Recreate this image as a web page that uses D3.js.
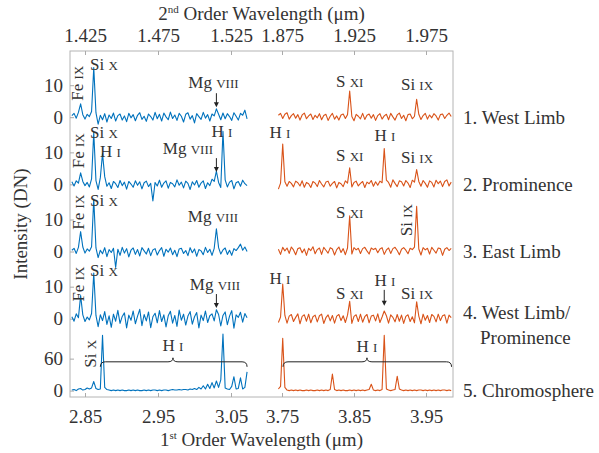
<!DOCTYPE html>
<html>
<head>
<meta charset="utf-8">
<script src="https://cdn.jsdelivr.net/npm/d3@7/dist/d3.min.js"></script>
<style>
  body { margin: 0; background: #fff; }
  svg text { font-family: "Liberation Serif", "Times New Roman", serif; fill: #333; }
  .tick line { stroke: #aaa; }
</style>
</head>
<body>
<div id="chart"></div>
<script>
// sampling grid of the spectra, 1st order wavelength (um)
const blueStart = 2.832, orangeStart = 3.745, gridStep = 0.003;

const panelNames = ['1. West Limb', '2. Prominence', '3. East Limb', '4. West Limb/', '5. Chromosphere'];
const panelYTicks = [[0, 10], [0, 10], [0, 10], [0, 10], [0, 60]];

const bottomTicksBlue = [2.85, 2.95, 3.05];
const bottomTicksOrange = [3.75, 3.85, 3.95];
const topTicksBlue = [1.425, 1.475, 1.525];
const topTicksOrange = [1.875, 1.925, 1.975];

// intensity (DN), blue = 2.83-3.07 um, orange = 3.74-3.99 um
const blueWest = [
  0.5, 1.2, -0.3, 1.5, 4.2, 0.8, -0.6, 0.9, 0.2, 1.8,
  15.5, 1.4, -2.2, 0.6, -0.8, 1.1, -1.5, 0.7, -0.4, 1.3,
  -1.2, 0.5, 1.0, -0.9, 0.4, -1.4, 1.2, -0.2, 0.8, -1.1,
  0.6, 1.4, -0.7, 0.3, -1.3, 1.0, 0.2, -0.9, 1.5, -0.5,
  0.9, -1.2, 1.3, 0.1, -0.8, 1.6, -0.4, 0.7, -1.0, 1.2,
  0.3, -1.5, 0.9, 1.4, -0.6, 0.5, -1.8, 1.1, 0.2, -0.7,
  1.5, -0.3, 0.8, -1.2, 1.0, 0.4, 2.6, 0.9, -0.8, 1.3,
  -0.5, 1.1, 0.2, -1.0, 1.4, 0.3, -0.9, 1.2, 0.6, 2.2, -0.5];
const blueProm = [
  0.8, -0.5, 1.1, 0.4, 3.6, 0.9, -0.4, 0.6, -0.8, 1.7,
  16.2, 1.2, -1.6, 2.1, 9.6, 2.4, -0.6, 0.5, -1.3, 0.9,
  0.2, -1.0, 1.2, -0.4, 0.7, -1.5, 0.9, 0.1, -0.9, 1.1,
  -0.3, 0.8, -1.4, 0.5, 1.0, -0.7, 0.3, -5.2, 0.6, -0.5,
  1.3, -0.9, 0.4, 1.1, -1.2, 0.6, 0.2, -0.8, 1.4, -0.3,
  0.7, -1.1, 1.0, 0.3, -1.6, 0.8, -0.2, 1.2, -0.9, 0.4,
  1.1, -1.3, 0.5, -0.4, 1.6, 0.9, 4.1, 0.6, -1.0, 16.6,
  1.4, -0.8, 0.7, 1.2, -1.4, 0.5, 0.9, -0.6, 1.3, 0.2, -0.4];
const blueEast = [
  0.4, 1.0, -0.6, 1.3, 6.2, 1.4, -0.5, 0.8, 0.1, 1.5,
  16.4, 1.1, -1.9, 0.4, -0.7, 1.2, -1.6, 0.6, -0.3, 1.0,
  -5.0, 0.7, -1.2, 1.3, -0.5, 0.9, -1.7, 0.4, 1.1, -0.9,
  0.6, -1.4, 1.2, 0.2, -0.8, 1.0, -1.3, 0.5, 0.9, -1.1,
  0.3, 1.2, -1.5, 0.7, -0.2, 1.1, -1.0, 0.4, -1.6, 0.8,
  1.0, -0.6, 0.3, -1.3, 1.2, -0.4, 0.8, -1.5, 0.6, 0.2,
  -1.0, 1.3, -0.3, 0.7, -1.2, 1.0, 7.1, 1.2, -0.8, 0.5,
  1.1, -0.9, 0.4, -1.2, 0.9, 0.3, 1.2, 2.3, 0.4, 1.4, 0.0];
const blueWestProm = [
  0.6, -0.8, 1.5, 0.3, 7.2, 1.2, -0.9, 0.5, -0.4, 1.6,
  14.3, 1.0, -2.5, 1.2, -0.6, 2.2, -1.8, 0.9, -2.7, 1.4,
  -0.8, 2.6, -1.5, 0.7, 1.8, -2.9, 1.1, -0.5, 2.4, -1.6,
  0.8, 2.9, -2.2, 1.3, -0.7, 2.1, -2.8, 0.6, 1.7, -1.3,
  2.5, -0.9, 1.2, -2.6, 0.9, 2.3, -1.4, 1.0, -2.4, 2.7,
  -0.5, 1.4, -2.0, 0.8, 2.2, -1.7, 0.6, 1.9, -2.9, 1.1,
  -0.6, 2.4, -1.2, 0.9, 1.5, -0.7, 2.8, 1.3, -2.3, 1.0,
  2.1, -1.9, 0.8, 2.5, -3.0, 1.2, 0.4, 2.0, -1.1, 1.6, 0.3];
const blueChromo = [
  1, 2, 0, 3, 4, 1, 2, 5, 3, 5,
  17, 4, 2, 3, 104, 6, 2, 1, 0, 1,
  0, 1, 0, 1, 0, 0, 1, 0, 1, 0,
  1, 0, 0, 1, 0, 1, 0, 1, 1, 0,
  1, 0, 1, 1, 0, 1, 2, 1, 1, 2,
  1, 2, 2, 1, 3, 2, 4, 2, 6, 3,
  9, 3, 12, 4, 15, 5, 18, 6, 20, 106,
  5, 3, 2, 8, 26, 3, 4, 24, 3, 6, 35];

const orangeWest = [
  0.6, 1.2, -0.4, 0.9, 1.4, -0.6, 0.5, 1.1, -0.3, 0.8,
  -0.9, 0.7, 1.3, -0.5, 0.4, 1.0, -0.7, 0.6, -0.2, 1.1,
  -0.8, 0.5, 0.9, -1.0, 0.3, 1.2, -0.6, 0.4, -0.9, 0.7,
  1.0, -0.4, 0.8, 8.2, 0.2, -1.1, 0.9, 0.3, -0.5, 1.2,
  -0.7, 0.6, 1.0, -0.3, 0.8, -1.0, 0.5, 1.1, -0.6, 0.4,
  0.9, -0.8, 1.2, 0.1, -0.9, 0.7, 1.3, -0.4, 0.6, -1.1,
  0.8, 1.0, -0.5, 0.3, 5.6, 0.9, -0.7, 0.5, 1.2, -0.6,
  0.7, -0.2, 1.1, 0.4, -0.9, 0.8, 1.0, -0.4, 0.6, 1.3, 0.2];
const orangeProm = [
  -1.5, 0.4, 12.6, 0.8, -0.6, 0.9, 0.3, -0.8, 1.0, 0.5,
  -0.5, 1.1, -0.9, 0.6, 0.2, -1.0, 0.9, 0.4, -0.7, 1.2,
  0.1, -0.8, 0.7, 1.0, -0.6, 0.3, 0.9, -1.1, 0.6, 0.2,
  -0.7, 1.1, 0.4, 5.2, -0.8, 0.6, 1.0, -0.5, 0.3, 0.9,
  -1.0, 0.7, 0.2, 1.2, -0.6, 0.8, -0.3, 1.0, 0.5, 11.2,
  1.3, 0.6, -0.9, 1.4, 0.3, -0.7, 1.1, 0.8, -0.5, 1.2,
  0.4, -1.0, 1.3, 0.7, 4.6, 0.9, -0.6, 1.2, 0.3, -0.9,
  1.1, 0.6, -0.8, 1.3, 0.2, 1.0, -0.7, 0.9, 1.4, -0.5, 0.7];
const orangeEast = [
  0.7, -0.9, 1.3, 0.2, 1.1, -0.6, 1.4, 0.5, -1.0, 0.9,
  1.2, -0.4, 0.8, -1.2, 1.0, 0.3, 1.5, -0.7, 0.6, 1.1,
  -0.9, 1.3, 0.4, -0.5, 1.2, 0.8, -1.1, 0.6, 1.4, -0.3,
  0.9, -1.0, 1.1, 11.2, -0.8, 1.2, 0.5, 1.0, -0.6, 0.9,
  1.3, 0.2, -0.8, 1.1, 0.6, 1.0, -0.4, 0.8, 1.2, -0.9,
  0.5, 1.1, -0.6, 0.9, 1.3, 0.3, -1.0, 0.7, 1.2, 0.4,
  -0.7, 1.0, 0.6, 1.4, 14.1, 0.8, -1.1, 1.2, 0.5, 1.0,
  -0.8, 1.3, 0.4, -0.5, 1.1, 0.9, -1.2, 0.7, 1.2, 0.3, 1.0];
const orangeWestProm = [
  -1.2, 0.5, 10.8, 1.0, -1.4, 0.8, 1.3, -0.9, 0.4, 1.5,
  -1.6, 0.7, 1.2, -0.8, 1.4, -1.3, 0.6, 1.1, -1.0, 0.9,
  1.4, -1.5, 0.3, 1.2, -0.7, 1.0, -1.4, 0.8, 1.3, -0.6,
  0.9, -1.2, 1.1, 5.4, -1.5, 0.7, 1.2, -0.9, 1.4, -1.1,
  0.6, 1.3, -1.3, 0.8, 1.1, -0.7, 1.5, -1.2, 0.5, 2.4,
  0.9, -1.4, 1.2, 0.4, -1.0, 1.3, -0.8, 1.1, -1.5, 0.7,
  1.2, -0.9, 0.6, -1.3, 5.3, 0.8, -1.6, 1.4, -0.5, 1.0,
  -1.2, 1.3, 0.7, -1.0, 1.4, -0.6, 0.9, 1.2, -1.4, 1.1, 0.3];
const orangeChromo = [
  3, 8, 98, 6, 1, 0, 1, 0, 1, 0,
  1, 0, 0, 1, 0, 1, 0, 0, 1, 0,
  1, 0, 1, 0, 2, 31, 2, 0, 1, 0,
  1, 0, 0, 1, 0, 1, 0, 1, 0, 1,
  0, 1, 2, 12, 1, 0, 1, 0, 2, 104,
  3, 1, 0, 1, 2, 27, 3, 1, 0, 1,
  0, 1, 0, 1, 0, 1, 1, 0, 1, 0,
  1, 0, 1, 0, 1, 0, 1, 1, 0, 1, 0];

const blueSpectra = [blueWest, blueProm, blueEast, blueWestProm, blueChromo];
const orangeSpectra = [orangeWest, orangeProm, orangeEast, orangeWestProm, orangeChromo];

// line identifications: panel, band, wavelength, intensity, element, ion
const lineLabels = [
  [0, 'b', 2.839, 10.6, 'Fe', 'IX', 'rot'],
  [0, 'b', 2.857, 14.7, 'Si', 'X', 'start'],
  [0, 'b', 3.026, 9.1, 'Mg', 'VIII', 'middle'],
  [1, 'b', 2.8404, 10.5, 'Fe', 'IX', 'rot'],
  [1, 'b', 2.857, 14.5, 'Si', 'X', 'start'],
  [1, 'b', 2.8705, 8.6, 'H', 'I', 'start'],
  [1, 'b', 2.991, 9.5, 'Mg', 'VIII', 'middle'],
  [1, 'b', 3.0377, 14.8, 'H', 'I', 'middle'],
  [2, 'b', 2.8404, 12.3, 'Fe', 'IX', 'rot'],
  [2, 'b', 2.857, 14.2, 'Si', 'X', 'start'],
  [2, 'b', 3.0253, 9.2, 'Mg', 'VIII', 'middle'],
  [3, 'b', 2.8404, 10.8, 'Fe', 'IX', 'rot'],
  [3, 'b', 2.857, 13.3, 'Si', 'X', 'start'],
  [3, 'b', 3.028, 9.0, 'Mg', 'VIII', 'middle'],
  [4, 'b', 2.857, 69, 'Si', 'X', 'rot'],
  [4, 'b', 2.9705, 74, 'H', 'I', 'middle'],
  [0, 'o', 3.844, 9.4, 'S', 'XI', 'middle'],
  [0, 'o', 3.9375, 8.5, 'Si', 'IX', 'middle'],
  [1, 'o', 3.747, 14.5, 'H', 'I', 'middle'],
  [1, 'o', 3.844, 7.3, 'S', 'XI', 'middle'],
  [1, 'o', 3.893, 13.5, 'H', 'I', 'middle'],
  [1, 'o', 3.9375, 6.7, 'Si', 'IX', 'middle'],
  [2, 'o', 3.844, 10.5, 'S', 'XI', 'middle'],
  [2, 'o', 3.922, 9.8, 'Si', 'IX', 'rot'],
  [3, 'o', 3.747, 10.8, 'H', 'I', 'middle'],
  [3, 'o', 3.844, 6.2, 'S', 'XI', 'middle'],
  [3, 'o', 3.893, 10.2, 'H', 'I', 'middle'],
  [3, 'o', 3.9375, 6.2, 'Si', 'IX', 'middle'],
  [4, 'o', 3.868, 72.6, 'H', 'I', 'middle']
];
// arrows: panel, band, wavelength, from, to
const arrows = [
  [0, 'b', 3.03, 7.5, 3.1],
  [1, 'b', 3.03, 8.2, 3.9],
  [3, 'b', 3.03, 7.7, 3.3],
  [3, 'o', 3.892, 9.0, 4.0]
];
// H I series braces in the chromosphere: band, from, to, level, tip
const braces = [
  ['b', 2.871, 3.072, 54, 2.9705],
  ['o', 3.7514, 3.9855, 54, 3.868]
];

const width = 599, height = 453;
const frame = { left: 70, right: 453, top: 51, bottom: 397 };
const panelOffset = [0, -21, -42, -63, -85.5];
const panelGain = [1, 1, 1, 1, 1 / 6];
const bigFont = '19px';

const svg = d3.select('#chart').append('svg')
  .attr('width', width)
  .attr('height', height);

const xBlue = d3.scaleLinear().domain([2.85, 3.05]).range([85, 231]);
const xOrange = d3.scaleLinear().domain([3.75, 3.95]).range([282, 426]);
const xBlueTop = d3.scaleLinear().domain([1.425, 1.525]).range([85, 231]);
const xOrangeTop = d3.scaleLinear().domain([1.875, 1.975]).range([282, 426]);
const yStack = d3.scaleLinear().domain([-87.5, 20.7]).range([frame.bottom, frame.top]);
const panelY = panelOffset.map((off, i) =>
  d3.scaleLinear().domain([0, 1 / panelGain[i]]).range([yStack(off), yStack(off + 1)]));

const xOf = band => band === 'b' ? xBlue : xOrange;

// frame
svg.append('rect')
  .attr('x', frame.left)
  .attr('y', frame.top)
  .attr('width', frame.right - frame.left)
  .attr('height', frame.bottom - frame.top)
  .attr('fill', 'none')
  .attr('stroke', '#b4b4b4');

// axes
function styleAxis(g) {
  g.select('.domain').remove();
  g.selectAll('text').style('font-size', bigFont).attr('fill', '#333');
}
const fmt2 = d3.format('.2f'), fmt3 = d3.format('.3f'), fmtInt = d3.format('d');
[[xBlue, bottomTicksBlue], [xOrange, bottomTicksOrange]].forEach(([sc, tv]) => {
  svg.append('g')
    .attr('transform', 'translate(0,' + frame.bottom + ')')
    .call(d3.axisBottom(sc).tickValues(tv).tickFormat(fmt2).tickSize(-4).tickPadding(13))
    .call(styleAxis);
});
[[xBlueTop, topTicksBlue], [xOrangeTop, topTicksOrange]].forEach(([sc, tv]) => {
  svg.append('g')
    .attr('transform', 'translate(0,' + frame.top + ')')
    .call(d3.axisTop(sc).tickValues(tv).tickFormat(fmt3).tickSize(-4).tickPadding(9))
    .call(styleAxis);
});
panelY.forEach((sc, i) => {
  svg.append('g')
    .attr('transform', 'translate(' + frame.left + ',0)')
    .call(d3.axisLeft(sc).tickValues(panelYTicks[i]).tickFormat(fmtInt).tickSize(-4).tickPadding(7))
    .call(styleAxis);
});

// titles
const t1 = svg.append('text')
  .attr('x', (frame.left + frame.right) / 2).attr('y', 446)
  .attr('text-anchor', 'middle').style('font-size', bigFont);
t1.append('tspan').text('1');
t1.append('tspan').attr('font-size', '11px').attr('dy', -7).text('st');
t1.append('tspan').attr('dy', 7).text(' Order Wavelength (μm)');

const t2 = svg.append('text')
  .attr('x', (frame.left + frame.right) / 2).attr('y', 20)
  .attr('text-anchor', 'middle').style('font-size', bigFont);
t2.append('tspan').text('2');
t2.append('tspan').attr('font-size', '11px').attr('dy', -7).text('nd');
t2.append('tspan').attr('dy', 7).text(' Order Wavelength (μm)');

svg.append('text')
  .attr('transform', 'translate(27,' + (frame.top + frame.bottom) / 2 + ') rotate(-90)')
  .attr('text-anchor', 'middle')
  .style('font-size', bigFont)
  .text('Intensity (DN)');

// spectra
function drawSpectrum(values, i, start, x, colour) {
  const line = d3.line()
    .x((d, k) => x(start + k * gridStep))
    .y(d => panelY[i](d));
  svg.append('path')
    .datum(values)
    .attr('d', line)
    .attr('fill', 'none')
    .attr('stroke', colour)
    .attr('stroke-width', 1.1)
    .attr('stroke-linejoin', 'round');
}
blueSpectra.forEach((s, i) => drawSpectrum(s, i, blueStart, xBlue, '#0072BD'));
orangeSpectra.forEach((s, i) => drawSpectrum(s, i, orangeStart, xOrange, '#D95319'));

// panel names
panelNames.forEach((name, i) => {
  svg.append('text')
    .attr('x', 463)
    .attr('y', panelY[i](0) + (i === 3 ? -6 : 0))
    .attr('dy', '0.35em')
    .style('font-size', bigFont)
    .text(name);
});
svg.append('text')
  .attr('x', 480)
  .attr('y', panelY[3](0) + 19)
  .attr('dy', '0.35em')
  .style('font-size', bigFont)
  .text('Prominence');

// line labels
lineLabels.forEach(([p, band, w, v, el, ion, mode]) => {
  const x = xOf(band)(w), y = panelY[p](v);
  const t = svg.append('text').style('font-size', '17px');
  if (mode === 'rot') {
    t.attr('transform', 'translate(' + x + ',' + y + ') rotate(-90)')
      .attr('text-anchor', 'middle')
      .attr('dy', '0.35em');
  } else {
    t.attr('x', x).attr('y', y).attr('text-anchor', mode);
  }
  t.append('tspan').text(el + ' ');
  t.append('tspan').attr('font-size', '13px').text(ion);
});

// arrows
arrows.forEach(([p, band, w, v0, v1]) => {
  const x = xOf(band)(w), y0 = panelY[p](v0), y1 = panelY[p](v1);
  svg.append('line')
    .attr('x1', x).attr('x2', x).attr('y1', y0).attr('y2', y1 - 4)
    .attr('stroke', '#222').attr('stroke-width', 1);
  svg.append('path')
    .attr('d', 'M' + (x - 2.5) + ',' + (y1 - 5) + 'L' + (x + 2.5) + ',' + (y1 - 5) + 'L' + x + ',' + y1 + 'Z')
    .attr('fill', '#222');
});

// braces
braces.forEach(([band, w0, w1, v, wt]) => {
  const x = xOf(band), y = panelY[4](v);
  const a = x(w0), b = x(w1), m = x(wt);
  const d = 'M' + a + ',' + (y + 5) + 'Q' + a + ',' + y + ' ' + (a + 5) + ',' + y +
    'L' + (m - 5) + ',' + y + 'Q' + m + ',' + y + ' ' + m + ',' + (y - 4) +
    'Q' + m + ',' + y + ' ' + (m + 5) + ',' + y +
    'L' + (b - 5) + ',' + y + 'Q' + b + ',' + y + ' ' + b + ',' + (y + 5);
  svg.append('path')
    .attr('d', d)
    .attr('fill', 'none')
    .attr('stroke', '#222')
    .attr('stroke-width', 1);
});
</script>
</body>
</html>
